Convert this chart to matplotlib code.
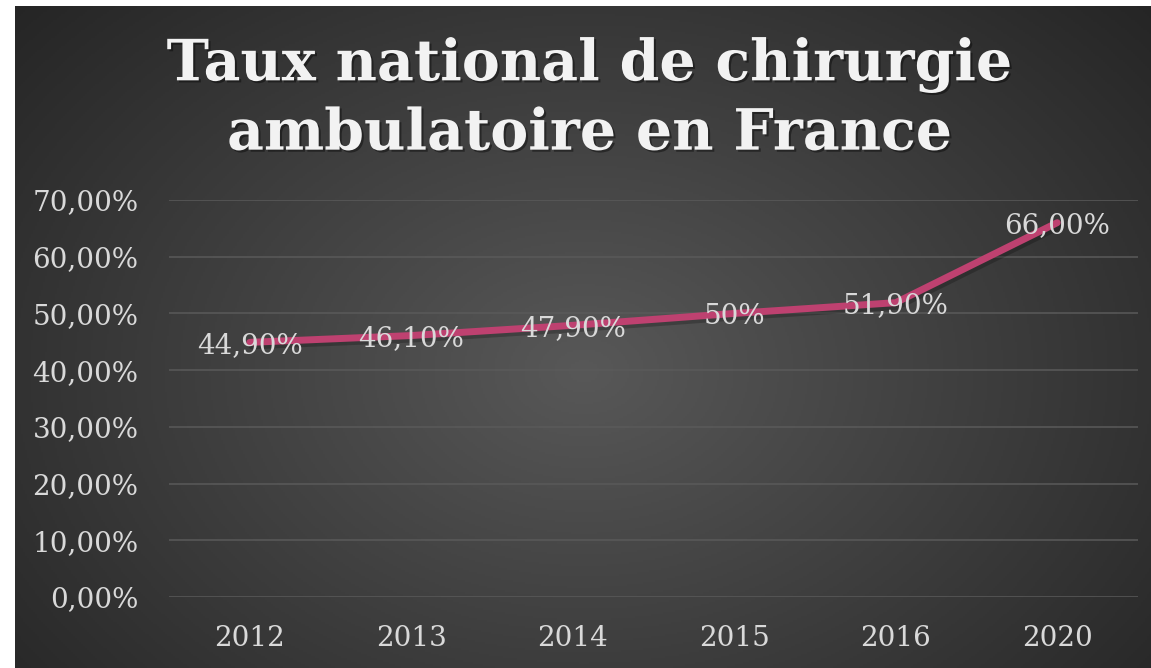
import numpy as np
import matplotlib
matplotlib.use("Agg")
import matplotlib.pyplot as plt
import matplotlib.patheffects as pe

# données
annees = ["2012", "2013", "2014", "2015", "2016", "2020"]
taux = [0.449, 0.461, 0.479, 0.50, 0.519, 0.66]
etiquettes = ["44,90%", "46,10%", "47,90%", "50%", "51,90%", "66,00%"]
graduations = [0.0, 0.1, 0.2, 0.3, 0.4, 0.5, 0.6, 0.7]

W, H = 1151, 668
fig = plt.figure(figsize=(W / 100, H / 100), dpi=100)
fig.patch.set_facecolor("white")

# fond dégradé radial
bg = fig.add_axes([15 / W, 0, 1 - 15 / W, 662 / H])
ny, nx = 331, 568
yy, xx = np.mgrid[0:ny, 0:nx]
cx, cy = nx * 0.50, ny * 0.55
r = np.sqrt(((xx - cx) / (nx * 0.5)) ** 2 + ((yy - cy) / (ny * 0.62)) ** 2) / np.sqrt(2)
r = np.clip(r / 0.95, 0, 1)
c_centre, c_bord = 0x58 / 255, 0x25 / 255
img = c_centre + (c_bord - c_centre) * r
bg.imshow(np.dstack([img, img, img]), aspect="auto", extent=[0, 1, 0, 1])
bg.axis("off")

ax = fig.add_axes([169 / W, (H - 597) / H, (1138 - 169) / W, (597 - 200) / H])
ax.patch.set_alpha(0)

x = np.arange(len(annees))
ax.plot(x, taux, color="#BE4170", linewidth=5, solid_capstyle="round", zorder=3,
        path_effects=[pe.SimpleLineShadow(offset=(1.5, -2.5), shadow_color="black", alpha=0.22),
                      pe.Normal()])

for xi, yi, lab in zip(x, taux, etiquettes):
    ax.annotate(lab, (xi, yi), xytext=(0, -2), textcoords="offset points",
                ha="center", va="center", color="#d9d9d9", fontsize=20,
                family="DejaVu Serif", zorder=4)

ax.set_xlim(-0.5, len(annees) - 0.5)
ax.set_ylim(0, 0.7)
ax.set_yticks(graduations)
ax.set_yticklabels([f"{v*100:.2f}%".replace(".", ",") for v in graduations])
ax.set_xticks(x)
ax.set_xticklabels(annees)
ax.grid(axis="y", color="#5a5a5a", linewidth=1.1)
ax.set_axisbelow(True)
for s in ax.spines.values():
    s.set_visible(False)
ax.tick_params(axis="both", length=0, colors="#d9d9d9", labelsize=20)
ax.tick_params(axis="y", pad=22)
ax.tick_params(axis="x", pad=20)
for t in ax.get_xticklabels() + ax.get_yticklabels():
    t.set_family("DejaVu Serif")

fig.text(590 / W, 1 - 99 / H, "Taux national de chirurgie\nambulatoire en France",
         ha="center", va="center", fontsize=41, fontweight="bold", family="DejaVu Serif",
         color="#f2f2f2", linespacing=1.28,
         path_effects=[pe.withSimplePatchShadow(offset=(1.5, -1.5), shadow_rgbFace="black", alpha=0.4)])

fig.savefig("out.png", dpi=100, facecolor=fig.get_facecolor())
